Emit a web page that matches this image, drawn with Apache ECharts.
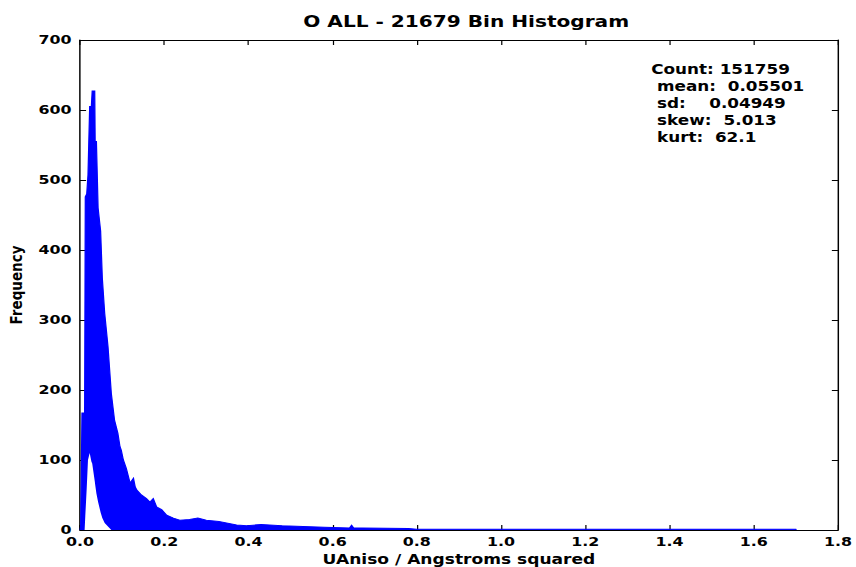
<!DOCTYPE html>
<html>
<head>
<meta charset="utf-8">
<script src="https://cdn.jsdelivr.net/npm/echarts@6/dist/echarts.min.js"></script>
<style>
html,body{margin:0;padding:0;background:#fff;overflow:hidden;}
#chart{width:702px;height:567px;transform:scaleX(1.21937);transform-origin:0 0;}
</style>
</head>
<body>
<div id="chart"></div>
<script>
// Histogram envelope (UAniso value, upper and lower edge of the dense bin trace)
const binX = [0.000, 0.0016, 0.003, 0.0047, 0.011, 0.0126, 0.016, 0.019, 0.023, 0.027, 0.029, 0.035, 0.036, 0.039, 0.043, 0.049, 0.053, 0.0586, 0.0665, 0.0744, 0.082, 0.090, 0.095, 0.098, 0.103, 0.110, 0.119, 0.127, 0.131, 0.135, 0.146, 0.158, 0.166, 0.174, 0.182, 0.194, 0.206, 0.222, 0.237, 0.26, 0.28, 0.30, 0.33, 0.372, 0.396, 0.43, 0.48, 0.58, 0.64, 0.645, 0.65, 0.67, 0.78, 0.80, 1.70, 1.701];
const upperFreq = [0, 5, 71, 167, 167, 476, 480, 507, 605, 605, 627, 627, 555, 555, 460, 427, 360, 310, 262, 195, 157, 138, 119, 114, 100, 88, 67, 74, 62, 57, 50, 45, 40, 45, 33, 29, 21, 17, 14, 15, 17, 14, 12, 7, 6, 8, 6, 4, 3, 7, 3, 3, 2, 1.2, 1, 0];
const lowerFreq = [0, 0, 0, 0, 0, 20, 60, 100, 110, 98, 95, 70, 65, 52, 40, 25, 17, 10, 5, 0, 0, 0, 0, 0, 0, 0, 0, 0, 0, 0, 0, 0, 0, 0, 0, 0, 0, 0, 0, 0, 0, 0, 0, 0, 0, 0, 0, 0, 0, 0, 0, 0, 0, 0, 0, 0];
const xTicks = [0.0, 0.2, 0.4, 0.6, 0.8, 1.0, 1.2, 1.4, 1.6, 1.8];
const yTicks = [0, 100, 200, 300, 400, 500, 600, 700];
const statLabels = ['Count:', 'mean:', 'sd:', 'skew:', 'kurt:'];
const statValues = ['151759', '0.05501', '0.04949', '5.013', '62.1'];

const FONT = 'DejaVu Sans';
const chart = echarts.init(document.getElementById('chart'), null, {renderer: 'svg', width: 702, height: 567});

const tickStyle = {show: true, inside: true, length: 5, lineStyle: {color: '#000', width: 1}};
const lineStyle = {show: true, onZero: false, lineStyle: {color: '#000', width: 1.2}};
const labelStyle = {fontFamily: FONT, fontWeight: 'bold', fontSize: 13, color: '#000'};

// stats box (chart is drawn at 702 px wide and stretched to 856 like the reference)
const statFont = 'bold 13.8px "DejaVu Sans"';
const labelX = [534.0, 538.8, 538.8, 538.8, 538.8];
const valueX = [590.2, 596.8, 581.6, 593.4, 586.3];
const statGraphics = [];
statLabels.forEach((t, i) => {
  const y = 70 + i * 16.8;
  statGraphics.push({type: 'text', x: labelX[i], y: y,
    style: {text: t, font: statFont, fill: '#000', verticalAlign: 'middle'}});
  statGraphics.push({type: 'text', x: valueX[i], y: y,
    style: {text: statValues[i], font: statFont, fill: '#000', verticalAlign: 'middle'}});
});

chart.setOption({
  animation: false,
  backgroundColor: '#fff',
  title: {text: 'O ALL - 21679 Bin Histogram', left: 377.3, top: 8, textAlign: 'center',
    textStyle: {fontFamily: FONT, fontWeight: 'bold', fontSize: 16.5, color: '#000'}},
  grid: {left: 65.6, right: 14.8, top: 40, bottom: 37, containLabel: false, outerBoundsMode: 'none'},
  xAxis: [
    {type: 'value', position: 'bottom', min: 0, max: 1.8, interval: 0.2,
     axisLine: lineStyle, axisTick: tickStyle, splitLine: {show: false},
     axisLabel: Object.assign({margin: 5, formatter: v => v.toFixed(1)}, labelStyle),
     name: 'UAniso / Angstroms squared', nameLocation: 'middle', nameGap: 20,
     nameTextStyle: {fontFamily: FONT, fontWeight: 'bold', fontSize: 14, color: '#000'}},
    {type: 'value', position: 'top', min: 0, max: 1.8, interval: 0.2,
     axisLine: lineStyle, axisTick: tickStyle, splitLine: {show: false}, axisLabel: {show: false}}
  ],
  yAxis: [
    {type: 'value', position: 'left', min: 0, max: 700, interval: 100,
     axisLine: lineStyle, axisTick: tickStyle, splitLine: {show: false},
     axisLabel: Object.assign({margin: 7}, labelStyle),
     name: 'Frequency', nameLocation: 'middle', nameGap: 44, nameRotate: 90,
     nameTextStyle: {fontFamily: FONT, fontWeight: 'bold', fontSize: 13.5, color: '#000'}},
    {type: 'value', position: 'right', min: 0, max: 700, interval: 100,
     axisLine: lineStyle, axisTick: tickStyle, splitLine: {show: false}, axisLabel: {show: false}}
  ],
  graphic: statGraphics,
  series: [
    {type: 'custom', clip: true, silent: true,
     data: binX.map((x, i) => [x, upperFreq[i], lowerFreq[i]]),
     encode: {x: 0, y: [1, 2]},
     renderItem: function (params, api) {
       if (params.dataIndex !== 0) return null;
       const top = binX.map((x, i) => api.coord([x, upperFreq[i]]));
       const bottom = binX.map((x, i) => api.coord([x, lowerFreq[i]])).reverse();
       return {type: 'group', children: [
         {type: 'polygon', shape: {points: top.concat(bottom)},
          style: {fill: '#0000ff', stroke: null}},
         {type: 'polyline', shape: {points: top},
          style: {fill: null, stroke: '#0000ff', lineWidth: 1}}
       ]};
     }}
  ]
});
</script>
</body>
</html>
